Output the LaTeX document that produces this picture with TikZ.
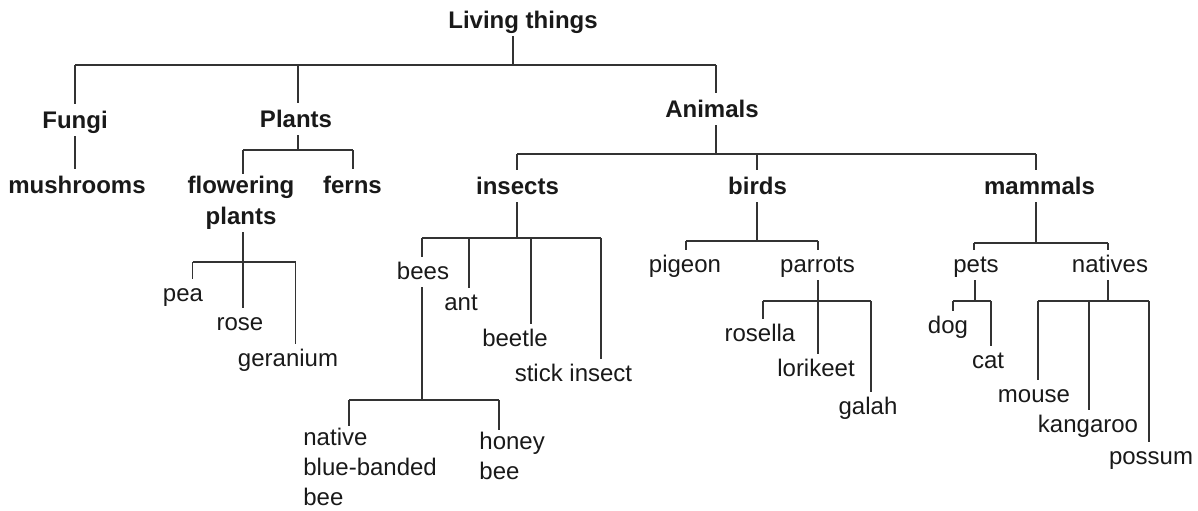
\documentclass[tikz,border=0pt]{standalone}
\usepackage{fontspec}
\setmainfont{Liberation Sans}
\usepackage{tikz}

\begin{document}
\begin{tikzpicture}[x=0.5pt,y=-0.5pt,
    every node/.style={font=\fontsize{12}{15}\selectfont, text=black!90, inner sep=0pt},
    grp/.style={font=\fontsize{12}{15}\selectfont\bfseries, anchor=base, text height=12pt, text depth=4pt},
    grpb/.style={font=\fontsize{12}{15.5}\selectfont\bfseries, align=center, anchor=north, inner ysep=1pt},
    itm/.style={anchor=base, text height=11pt, text depth=4pt},
    itmb/.style={align=left, anchor=north west, inner ysep=1pt},
    lnk/.style={line width=0.65pt, black!80}]
        \useasboundingbox (0,0) rectangle (1198,510);

        %------------------
        % ノード
        %------------------

        % 上の段
        \node[grp] (living) at (523,28) {Living things};
        \node[grp] (fungi) at (75,128) {Fungi};
        \node[grp] (plants) at (296,127) {Plants};
        \node[grp] (animals) at (712,117) {Animals};

        % 二段目
        \node[grp] (mush) at (77,193) {mushrooms};
        \node[grpb] (flower) at (241,174) {flowering\\plants};
        \node[grp] (ferns) at (352.5,193) {ferns};
        \node[grp] (insects) at (517.5,194) {insects};
        \node[grp] (birds) at (757.5,194) {birds};
        \node[grp] (mammals) at (1039.5,194) {mammals};

        % 植物
        \node[itm] (pea) at (183,301) {pea};
        \node[itm] (rose) at (240,330) {rose};
        \node[itm] (geranium) at (288,366) {geranium};

        % 昆虫
        \node[itm] (bees) at (423,279) {bees};
        \node[itm] (ant) at (461,310) {ant};
        \node[itm] (beetle) at (515,346) {beetle};
        \node[itm] (stick) at (573.5,381) {stick insect};
        \node[itmb] (native) at (303,426) {native\\blue-banded\\bee};
        \node[itmb] (honey) at (479,429.5) {honey\\bee};

        % 鳥
        \node[itm] (pigeon) at (685,272) {pigeon};
        \node[itm] (parrots) at (817.5,272) {parrots};
        \node[itm] (rosella) at (760,341) {rosella};
        \node[itm] (lorikeet) at (816,376) {lorikeet};
        \node[itm] (galah) at (868,414) {galah};

        % 哺乳類
        \node[itm] (pets) at (976,272) {pets};
        \node[itm] (natives) at (1110,272) {natives};
        \node[itm] (dog) at (948,333) {dog};
        \node[itm] (cat) at (988,368) {cat};
        \node[itm] (mouse) at (1034,402) {mouse};
        \node[itm] (kangaroo) at (1088,432) {kangaroo};
        \node[itm] (possum) at (1151,464) {possum};

        %------------------
        % 枝分かれの点
        %------------------

        \coordinate (fungiT) at (75,65);
        \coordinate (plantsT) at (298,65);
        \coordinate (livingB) at (513,65);
        \coordinate (animalsT) at (716,65);

        \coordinate (flowerT) at (243,150);
        \coordinate (plantsB) at (298,150);
        \coordinate (fernsT) at (353,150);

        \coordinate (insectsT) at (517,154);
        \coordinate (animalsB) at (716,154);
        \coordinate (birdsT) at (757,154);
        \coordinate (mammalsT) at (1036,154);

        \coordinate (peaT) at (192.5,262);
        \coordinate (flowerB) at (243,262);
        \coordinate (geraniumT) at (295.5,262);

        \coordinate (beesT) at (422,238);
        \coordinate (antT) at (469,238);
        \coordinate (insectsB) at (517,238);
        \coordinate (beetleT) at (531,238);
        \coordinate (stickT) at (601,238);

        \coordinate (nativeT) at (349,400);
        \coordinate (beesB) at (422,400);
        \coordinate (honeyT) at (499,400);

        \coordinate (pigeonT) at (686,241);
        \coordinate (birdsB) at (757,241);
        \coordinate (parrotsT) at (818,241);

        \coordinate (rosellaT) at (763,301);
        \coordinate (parrotsB) at (818,301);
        \coordinate (galahT) at (871,301);

        \coordinate (petsT) at (974,243);
        \coordinate (mammalsB) at (1036,243);
        \coordinate (nativesT) at (1108,243);

        \coordinate (dogT) at (953,301);
        \coordinate (petsB) at (975,301);
        \coordinate (catT) at (991,301);

        \coordinate (mouseT) at (1038,301);
        \coordinate (kangarooT) at (1089,301);
        \coordinate (nativesB) at (1108,301);
        \coordinate (possumT) at (1149,301);

        %------------------
        % 線
        %------------------

        % Living things
        \draw[lnk] (living.south -| livingB) -- (livingB);
        \draw[lnk] (fungiT) -- (animalsT);
        \draw[lnk] (fungiT) -- (fungiT |- fungi.north);
        \draw[lnk] (plantsT) -- (plantsT |- plants.north);
        \draw[lnk] (animalsT) -- (animalsT |- animals.north);

        % Fungi
        \draw[lnk] (fungi.south -| fungiT) -- (fungiT |- mush.north);

        % Plants
        \draw[lnk] (plants.south -| plantsB) -- (plantsB);
        \draw[lnk] (flowerT) -- (fernsT);
        \draw[lnk] (flowerT) -- (flowerT |- flower.north);
        \draw[lnk] (fernsT) -- (fernsT |- ferns.north);

        % flowering plants
        \draw[lnk] (flower.south -| flowerB) -- (flowerB |- rose.north);
        \draw[lnk] (peaT) -- (geraniumT);
        \draw[lnk] (peaT) -- (peaT |- pea.north);
        \draw[lnk] (geraniumT) -- (geraniumT |- geranium.north);

        % Animals
        \draw[lnk] (animals.south -| animalsB) -- (animalsB);
        \draw[lnk] (insectsT) -- (mammalsT);
        \draw[lnk] (insectsT) -- (insectsT |- insects.north);
        \draw[lnk] (birdsT) -- (birdsT |- birds.north);
        \draw[lnk] (mammalsT) -- (mammalsT |- mammals.north);

        % insects
        \draw[lnk] (insects.south -| insectsB) -- (insectsB);
        \draw[lnk] (beesT) -- (stickT);
        \draw[lnk] (beesT) -- (beesT |- bees.north);
        \draw[lnk] (antT) -- (antT |- ant.north);
        \draw[lnk] (beetleT) -- (beetleT |- beetle.north);
        \draw[lnk] (stickT) -- (stickT |- stick.north);

        % bees
        \draw[lnk] (bees.south -| beesB) -- (beesB);
        \draw[lnk] (nativeT) -- (honeyT);
        \draw[lnk] (nativeT) -- (nativeT |- native.north);
        \draw[lnk] (honeyT) -- (honeyT |- honey.north);

        % birds
        \draw[lnk] (birds.south -| birdsB) -- (birdsB);
        \draw[lnk] (pigeonT) -- (parrotsT);
        \draw[lnk] (pigeonT) -- (pigeonT |- pigeon.north);
        \draw[lnk] (parrotsT) -- (parrotsT |- parrots.north);

        % parrots
        \draw[lnk] (parrots.south -| parrotsB) -- (parrotsB |- lorikeet.north);
        \draw[lnk] (rosellaT) -- (galahT);
        \draw[lnk] (rosellaT) -- (rosellaT |- rosella.north);
        \draw[lnk] (galahT) -- (galahT |- galah.north);

        % mammals
        \draw[lnk] (mammals.south -| mammalsB) -- (mammalsB);
        \draw[lnk] (petsT) -- (nativesT);
        \draw[lnk] (petsT) -- (petsT |- pets.north);
        \draw[lnk] (nativesT) -- (nativesT |- natives.north);

        % pets
        \draw[lnk] (pets.south -| petsB) -- (petsB);
        \draw[lnk] (dogT) -- (catT);
        \draw[lnk] (dogT) -- (dogT |- dog.north);
        \draw[lnk] (catT) -- (catT |- cat.north);

        % natives
        \draw[lnk] (natives.south -| nativesB) -- (nativesB);
        \draw[lnk] (mouseT) -- (possumT);
        \draw[lnk] (mouseT) -- (mouseT |- mouse.north);
        \draw[lnk] (kangarooT) -- (kangarooT |- kangaroo.north);
        \draw[lnk] (possumT) -- (possumT |- possum.north);
      \end{tikzpicture}
\end{document}
